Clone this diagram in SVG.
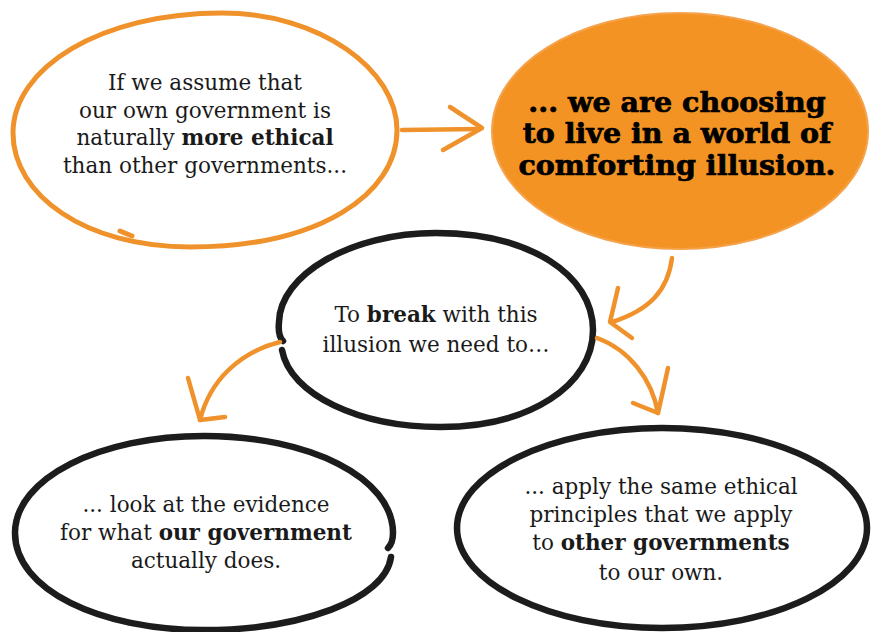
<svg xmlns="http://www.w3.org/2000/svg" width="871" height="632" viewBox="0 0 871 632">
<style>
.t{font-family:"DejaVu Serif","Liberation Serif",serif;font-size:21.5px;fill:#1a1a1a;text-anchor:middle}
.b{font-weight:bold}
.h{font-family:"DejaVu Serif","Liberation Serif",serif;font-weight:bold;font-size:28.5px;fill:#000;stroke:#000;stroke-width:0.7;text-anchor:middle}
.ol{fill:none;stroke:#F0922B;stroke-width:5;stroke-linecap:round;stroke-linejoin:round}
.bl{fill:none;stroke:#1c1c1c;stroke-width:6.5;stroke-linecap:round;stroke-linejoin:round}
.ar{fill:none;stroke:#F0922B;stroke-width:4.5;stroke-linecap:round;stroke-linejoin:round}
</style>
<rect width="871" height="632" fill="#ffffff"/>
<g id="node-assume">
<path class="ol" d="M13,133 C13,68 100,13 222,13 C320,13 397,70 397,130 C397,195 318,247 190,247 C85,247 13,195 13,133 Z"/>
<path class="ol" d="M120,231 L132,236"/>
<text class="t" x="205" y="90">If we assume that</text>
<text class="t" x="205" y="118">our own government is</text>
<text class="t" x="205" y="145">naturally <tspan class="b">more ethical</tspan></text>
<text class="t" x="205" y="173">than other governments...</text>
</g>
<g id="node-illusion">
<path d="M492,131 C492,66 576,13 680,13 C784,13 868,66 868,131 C868,196 784,249 680,249 C576,249 492,196 492,131 Z" fill="#F39323" stroke="#F5A24A" stroke-width="2"/>
<text class="h" x="677" y="112">... we are choosing</text>
<text class="h" x="677" y="143">to live in a world of</text>
<text class="h" x="677" y="175">comforting illusion.</text>
</g>
<g id="node-break">
<path class="bl" d="M282,350 C290,395 360,427 440,427 C530,427 593,385 593,330 C593,275 530,233 436,233 C350,233 280,275 279,322 C278,332 280,338 283,341"/>
<text class="t" x="436" y="322">To <tspan class="b">break</tspan> with this</text>
<text class="t" x="436" y="352">illusion we need to…</text>
</g>
<g id="node-evidence">
<path class="bl" d="M391,557 C385,600 300,630 204,630 C100,630 15,590 15,533 C15,478 100,436 204,436 C310,436 393,478 393,533 C393,540 391,545 388,548"/>
<text class="t" x="206" y="512">... look at the evidence</text>
<text class="t" x="206" y="540">for what <tspan class="b">our government</tspan></text>
<text class="t" x="206" y="568">actually does.</text>
</g>
<g id="node-apply">
<path class="bl" d="M457,528 C457,473 550,428 662,428 C775,428 867,473 867,528 C867,583 775,628 662,628 C550,628 457,583 457,528 Z"/>
<text class="t" x="661" y="494">... apply the same ethical</text>
<text class="t" x="661" y="522">principles that we apply</text>
<text class="t" x="661" y="550">to <tspan class="b">other governments</tspan></text>
<text class="t" x="661" y="580">to our own.</text>
</g>
<g id="connectors">
<path class="ar" d="M402,130 L480,129"/>
<path class="ar" d="M450,107 L482,128 L443,150"/>
<path class="ar" d="M672,258 C668,290 650,310 612,322"/>
<path class="ar" d="M618,288 L610,322 L632,338"/>
<path class="ar" d="M280,342 C240,352 210,380 200,420"/>
<path class="ar" d="M188,378 L200,420 L225,417"/>
<path class="ar" d="M597,338 C630,350 652,380 658,413"/>
<path class="ar" d="M668,368 L658,413 L633,403"/>
</g>
</svg>
